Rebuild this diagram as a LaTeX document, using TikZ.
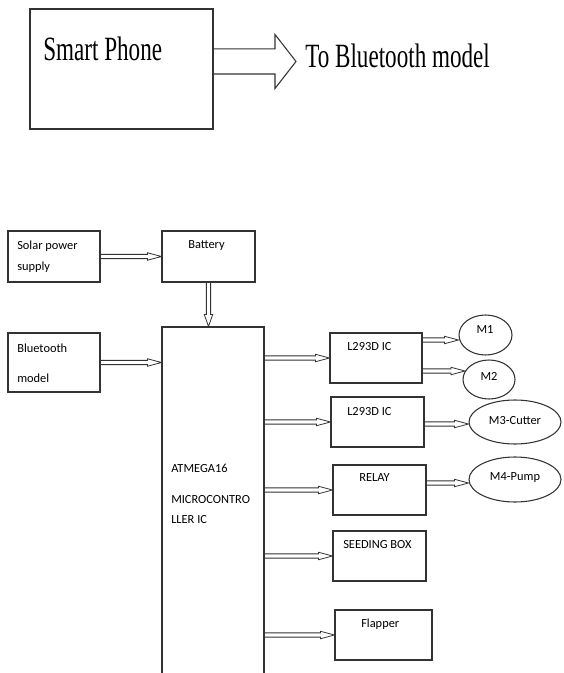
\documentclass[tikz,border=0pt]{standalone}
\usepackage{fontspec}
\setmainfont{Carlito}
\newfontfamily\topfont[FakeStretch=0.68]{Liberation Serif}
\usetikzlibrary{shapes.geometric,fit,calc}
\tikzset{
  box/.style={draw=black!80, line width=0.8pt, inner sep=0pt},
  motor/.style={ellipse, draw=black!80, line width=0.8pt, inner sep=0pt},
  txt/.style={anchor=west, inner sep=0pt, font=\fontsize{9.3}{11}\selectfont},
  toptxt/.style={anchor=base west, inner sep=0pt, font=\topfont\fontsize{25.5}{28}\selectfont},
  harr/.style={draw=black!80, line width=0.6pt, to path={let \p1=(\tikztostart), \p2=(\tikztotarget) in
     (\x1,\y1+1.6pt) -- (\x2-10.5pt,\y1+1.6pt) -- (\x2-10.5pt,\y1+2.8pt) -- (\x2,\y1)
     -- (\x2-10.5pt,\y1-2.8pt) -- (\x2-10.5pt,\y1-1.6pt) -- (\x1,\y1-1.6pt)}},
  varr/.style={draw=black!80, line width=0.6pt, to path={let \p1=(\tikztostart), \p2=(\tikztotarget) in
     (\x1+1.6pt,\y1) -- (\x1+1.6pt,\y2+9pt) -- (\x1+3.2pt,\y2+9pt) -- (\x1,\y2)
     -- (\x1-3.2pt,\y2+9pt) -- (\x1-1.6pt,\y2+9pt) -- (\x1-1.6pt,\y1)}},
  bigarr/.style={draw=black!80, line width=0.8pt, to path={let \p1=(\tikztostart), \p2=(\tikztotarget) in
     (\x1,\y1+9.4pt) -- (\x2-15.75pt,\y1+9.4pt) -- (\x2-15.75pt,\y1+20.25pt) -- (\x2,\y1)
     -- (\x2-15.75pt,\y1-20.25pt) -- (\x2-15.75pt,\y1-9.4pt) -- (\x1,\y1-9.4pt)}},
}
\begin{document}
\begin{tikzpicture}[x=0.75pt,y=-0.75pt]
\useasboundingbox[fill=white] (0,0) rectangle (563,673);

% top part
\node[box, fit={(30,9) (213,129)}] (phone) {};
\node[toptxt] (phonetxt) at (43,61) {Smart Phone};
\coordinate (tip) at (296,61.5);
\draw[bigarr] (phone.east |- tip) to (tip);
\node[toptxt] (totxt) at (305,68) {To Bluetooth model};

% boxes
\node[box, fit={(8,231) (100,282)}] (solar) {};
\node[box, fit={(162,231) (255,282)}] (battery) {};
\node[box, fit={(8,333) (100,392)}] (bt) {};
\node[box, fit={(162,327) (264,690)}] (mcu) {};
\node[box, fit={(330,333) (422,383)}] (l1) {};
\node[box, fit={(331,397) (424,447)}] (l2) {};
\node[box, fit={(333,465) (426,515)}] (relay) {};
\node[box, fit={(333,531) (426,581)}] (seed) {};
\node[box, fit={(335,610) (432,660)}] (flap) {};

% motors
\node[motor, minimum width=39.75pt, minimum height=30pt] (m1) at (485.5,335) {};
\node[motor, minimum width=39pt, minimum height=29.25pt] (m2) at (489,379.5) {};
\node[motor, minimum width=69pt, minimum height=33pt] (m3) at (515,422) {};
\node[motor, minimum width=69pt, minimum height=33.75pt] (m4) at (515,479.5) {};

% texts
\node[txt] (t1) at (17,246) {Solar power};
\node[txt] (t2) at (17,267) {supply};
\node[txt] (t3) at (188,246) {Battery};
\node[txt] (t4) at (17,348) {Bluetooth};
\node[txt] (t5) at (17,378) {model};
\node[txt] (t6) at (171,468) {ATMEGA16};
\node[txt] (t7) at (171,500) {MICROCONTRO};
\node[txt] (t8) at (171,520) {LLER IC};
\node[txt] (t9) at (347,347) {L293D IC};
\node[txt] (t10) at (347,412) {L293D IC};
\node[txt] (t11) at (359,478) {RELAY};
\node[txt] (t12) at (343,545) {SEEDING BOX};
\node[txt] (t13) at (361,624) {Flapper};
\node[font=\fontsize{9.3}{11}\selectfont, inner sep=0pt] (t14) at (485,330) {M1};
\node[font=\fontsize{9.3}{11}\selectfont, inner sep=0pt] (t15) at (489,376) {M2};
\node[font=\fontsize{9.3}{11}\selectfont, inner sep=0pt] (t16) at (515,421) {M3-Cutter};
\node[font=\fontsize{9.3}{11}\selectfont, inner sep=0pt] (t17) at (515,478) {M4-Pump};

% arrows
\draw[harr] (solar.east) to (battery.west);
\draw[varr] (battery.south) to (battery.south |- mcu.north);
\draw[harr] (bt.east) to (bt.east -| mcu.west);
\draw[harr] (l1.west -| mcu.east) to (l1.west);
\draw[harr] (l2.west -| mcu.east) to (l2.west);
\draw[harr] (relay.west -| mcu.east) to (relay.west);
\draw[harr] (seed.west -| mcu.east) to (seed.west);
\draw[harr] (flap.west -| mcu.east) to (flap.west);
\draw[harr] (l1.east |- 0,340) to (m1.west);
\draw[harr] (l1.east |- 0,371) to ($(m2.west)+(2.5,0)$);
\draw[harr] (l2.east |- 0,424) to (m3.west);
\draw[harr] (relay.east |- 0,483) to (m4.west);
\end{tikzpicture}
\end{document}
